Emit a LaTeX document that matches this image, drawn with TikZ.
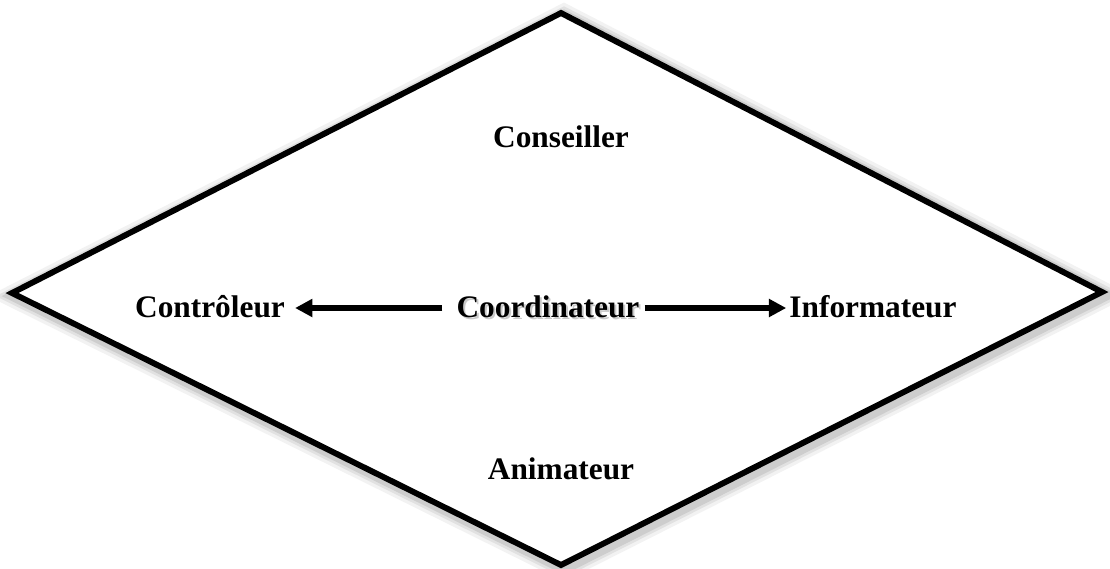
\documentclass[tikz,border=0pt]{standalone}
\usepackage{fontspec}
\setmainfont{Liberation Serif}
\usetikzlibrary{arrows.meta}
\begin{document}
\begin{tikzpicture}[x=0.75pt,y=-0.75pt,
  lbl/.style={font=\fontsize{23.5}{26}\selectfont\bfseries, inner sep=0pt, anchor=base},
  conn/.style={line width=4.3pt, -{Triangle[length=13pt,width=13pt]}}]
\useasboundingbox (0,0) rectangle (1110,568);
% soft shadow of the diamond
\foreach \o/\w in {0.05/18,0.07/13,0.09/9}{
  \draw[line width=\w pt, black, opacity=\o, line join=miter, shift={(3,3)}]
    (561,13) -- (1102,292) -- (561,565) -- (12,293) -- cycle;
}
\draw[line width=4.4pt, line join=miter, fill=white] (561,13) -- (1102,292) -- (561,565) -- (12,293) -- cycle;
\node[lbl] (cons) at (561,147) {Conseiller};
\node[lbl] (anim) at (561,479) {Animateur};
\node[lbl, text=black!35, opacity=0.6] (coordshadow) at (550,319) {Coordinateur};
\node[lbl] (coord) at (548,317) {Coordinateur};
\node[lbl] (ctrl) at (210,317) {Contrôleur};
\node[lbl] (info) at (873,317) {Informateur};
\coordinate (cw) at ([xshift=-14*0.75pt, yshift=9*0.75pt]coord.base west);
\coordinate (ce) at ([xshift=5*0.75pt, yshift=9*0.75pt]coord.base east);
\coordinate (kt) at ([xshift=10*0.75pt, yshift=9*0.75pt]ctrl.base east);
\coordinate (it) at ([xshift=-3*0.75pt, yshift=9*0.75pt]info.base west);
\draw[conn] (cw) -- (kt);
\draw[conn] (ce) -- (it);
\end{tikzpicture}
\end{document}
